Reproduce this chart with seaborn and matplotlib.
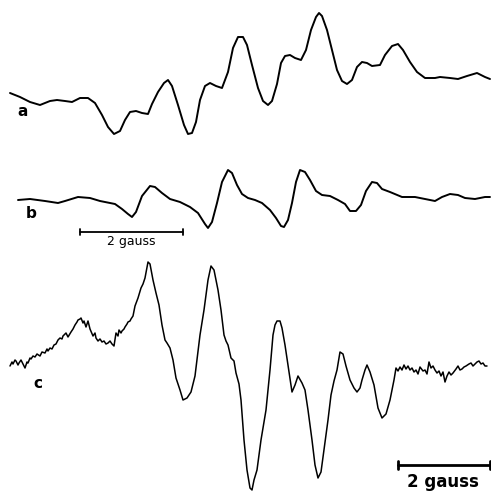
import matplotlib
matplotlib.use("Agg")
import matplotlib.pyplot as plt
import seaborn as sns
import pandas as pd

# Trace a (x, y in picture units; y grows downward)
a_x = [10, 20, 30, 40, 50, 57, 65, 72, 80, 88, 95, 102, 108, 114, 120, 125, 130, 136, 142, 148,
       152, 158, 164, 168, 172, 178, 184, 188, 192, 196, 200, 205, 210, 216, 222, 228, 233, 238,
       243, 247, 252, 258, 263, 268, 272, 277, 281, 285, 290, 295, 301, 306, 311, 316, 319, 322,
       327, 332, 337, 342, 347, 352, 357, 362, 367, 372, 380, 385, 392, 398, 403, 410, 417, 425,
       435, 440, 450, 458, 467, 477, 485, 490]
a_y = [93, 97, 102, 105, 101, 100, 101, 102, 98, 98, 103, 115, 127, 134, 131, 120, 112, 111, 113, 114,
       104, 92, 83, 80, 86, 105, 125, 134, 133, 122, 100, 86, 83, 86, 88, 72, 48, 37,
       37, 45, 65, 88, 101, 105, 101, 84, 63, 56, 55, 58, 60, 50, 30, 17, 13, 16,
       30, 50, 70, 81, 84, 80, 67, 62, 63, 66, 65, 55, 46, 44, 50, 62, 72, 78,
       78, 77, 78, 79, 76, 73, 77, 79]

# Trace b
b_x = [18, 30, 45, 58, 65, 78, 90, 100, 115, 122, 128, 132, 136, 142, 150, 155, 162, 170, 180, 190,
       198, 205, 208, 212, 217, 222, 228, 232, 237, 242, 248, 255, 262, 270, 276, 281, 284, 288,
       292, 296, 300, 305, 310, 316, 322, 330, 338, 345, 350, 356, 361, 366, 372, 377, 382, 390,
       402, 415, 425, 435, 442, 450, 458, 465, 475, 485, 490]
b_y = [200, 199, 201, 203, 201, 197, 198, 201, 204, 209, 214, 217, 212, 196, 186, 187, 193, 199, 202, 207,
       213, 224, 228, 222, 203, 182, 170, 173, 185, 194, 198, 200, 203, 210, 218, 226, 227, 220,
       203, 182, 170, 172, 180, 191, 195, 196, 200, 204, 211, 211, 205, 191, 182, 183, 189, 192,
       197, 197, 199, 201, 197, 194, 195, 198, 199, 197, 197]

# Trace c (noisy)
c_x = [10, 12, 13, 15, 16, 18, 19, 21, 22, 24, 25, 27, 28, 30, 31, 33, 35, 37, 40, 42, 45, 47, 48,
       50, 52, 54, 56, 58, 60, 62, 63, 65, 66, 68, 71, 73, 75, 77, 78, 80, 81, 83, 84, 86, 88, 90,
       93, 95, 96, 98, 100, 102, 104, 106, 108, 110, 112, 114, 116, 118, 119, 121, 122, 124, 125,
       127, 128, 130, 131, 133, 135, 138, 141, 143, 145, 148, 150, 153, 156, 159, 162, 165, 167,
       170, 173, 176, 180, 183, 187, 191, 195, 200, 204, 208, 211, 214, 218, 221, 224, 226, 228,
       231, 234, 236, 239, 241, 244, 247, 250, 252, 254, 257, 261, 266, 270, 273, 275, 277, 280,
       282, 285, 288, 290, 292, 295, 298, 302, 305, 308, 312, 315, 318, 321, 324, 328, 331, 334,
       337, 340, 343, 346, 350, 354, 357, 360, 362, 365, 367, 370, 374, 378, 382, 386, 390, 394,
       396, 398, 400, 402, 404, 406, 408, 410, 412, 414, 416, 418, 420, 423, 425, 427, 429, 431,
       433, 435, 437, 439, 441, 443, 445, 447, 449, 451, 453, 456, 458, 460, 462, 464, 466, 469,
       471, 473, 475, 477, 479, 481, 483, 485, 487]
c_y = [366, 362, 364, 360, 361, 365, 363, 360, 362, 366, 368, 362, 363, 358, 359, 356, 357, 354, 356, 352, 353, 349, 351,
       348, 349, 345, 344, 340, 338, 339, 336, 334, 333, 337, 332, 329, 325, 322, 320, 319, 318, 323, 321, 327, 321, 329,
       336, 333, 338, 341, 339, 342, 341, 344, 343, 341, 344, 346, 333, 336, 330, 333, 331, 329, 327,
       324, 322, 321, 319, 316, 306, 298, 288, 284, 278, 262, 264, 280, 293, 305, 325, 340, 343,
       348, 360, 378, 390, 400, 398, 392, 376, 335, 310, 280, 266, 270, 290, 310, 335, 341, 345,
       358, 361, 373, 384, 400, 440, 470, 488, 490, 480, 470, 440, 410, 370, 335, 325, 321, 321,
       328, 345, 365, 378, 392, 385, 376, 383, 390, 410, 440, 465, 478, 472, 450, 420, 395, 381,
       370, 352, 354, 366, 380, 388, 392, 388, 380, 370, 365, 372, 385, 408, 418, 414, 400, 380,
       368, 371, 367, 370, 365, 369, 366, 370, 368, 372, 370, 374, 367, 371, 370, 374, 362, 368,
       366, 370, 373, 371, 376, 372, 382, 376, 372, 375, 373, 369, 366, 370, 369, 367, 366, 364,
       363, 366, 364, 362, 361, 364, 363, 366, 366]

labels = ["a", "b", "c"]
label_x = [23, 31, 38]
label_y = [112, 213, 383]

scale_b_x = [80, 183]
scale_b_y = 232
scale_c_x = [398, 490]
scale_c_y = 465

sns.set_style("white")
fig = plt.figure(figsize=(4.91, 4.92), dpi=100)
ax = fig.add_axes([0, 0, 1, 1])

for xs, ys, lw in [(a_x, a_y, 1.4), (b_x, b_y, 1.4), (c_x, c_y, 1.1)]:
    df = pd.DataFrame({"x": xs, "y": ys})
    sns.lineplot(data=df, x="x", y="y", ax=ax, color="black", lw=lw,
                 sort=False, estimator=None)

for t, x, y in zip(labels, label_x, label_y):
    ax.text(x, y, t, fontsize=11, fontweight="bold", ha="center", va="center",
            color="black", family="DejaVu Sans")

# scale bars
ax.plot(scale_b_x, [scale_b_y] * 2, color="black", lw=1.3)
for x in scale_b_x:
    ax.plot([x, x], [scale_b_y - 3, scale_b_y + 3], color="black", lw=1.3)
ax.text(sum(scale_b_x) / 2, 242, "2 gauss", fontsize=9, ha="center", va="center",
        color="black")

ax.plot(scale_c_x, [scale_c_y] * 2, color="black", lw=2)
for x in scale_c_x:
    ax.plot([x, x], [scale_c_y - 4, scale_c_y + 4], color="black", lw=2)
ax.text(sum(scale_c_x) / 2 - 1, 482, "2 gauss", fontsize=12, fontweight="bold",
        ha="center", va="center", color="black")

ax.set_xlim(0, 491)
ax.set_ylim(492, 0)
ax.axis("off")
fig.savefig("out.png", dpi=100, facecolor="white")
